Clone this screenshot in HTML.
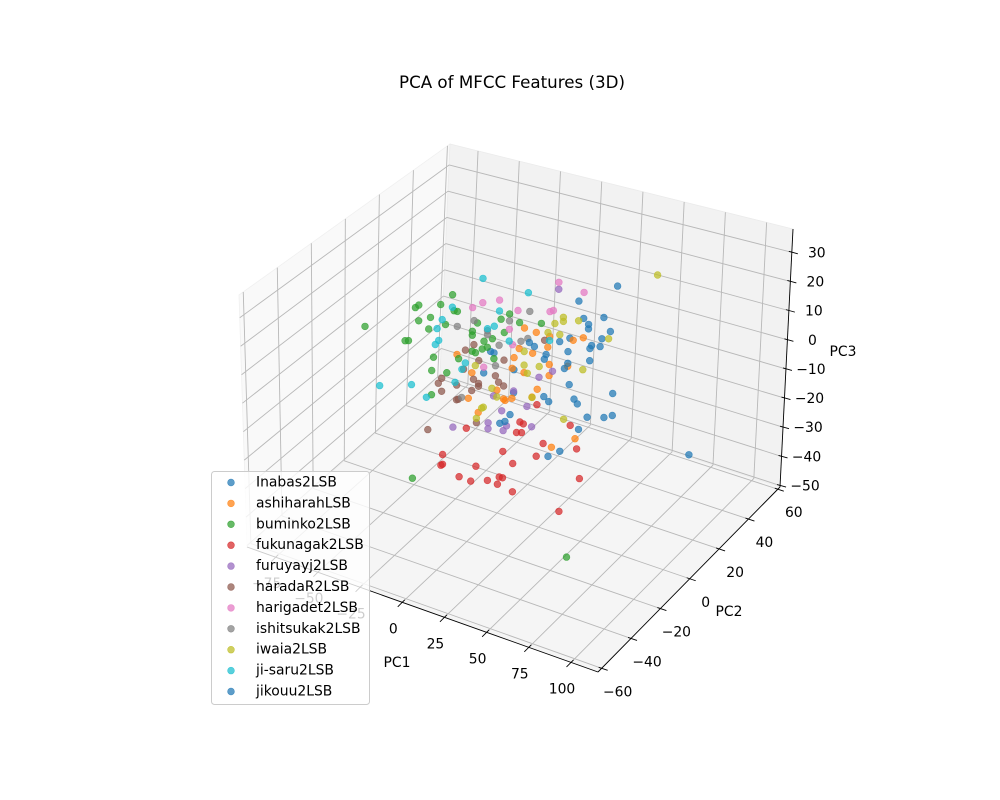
<!DOCTYPE html>
<html><head><meta charset="utf-8"><style>
html,body{margin:0;padding:0;background:#fff;}
svg{display:block;font-family:"DejaVu Sans","Liberation Sans",sans-serif;}
</style></head><body>
<svg id="chart" width="1000" height="800" viewBox="0 0 1000 800" xmlns="http://www.w3.org/2000/svg">
<rect width="1000" height="800" fill="#fff"/>
<text x="512" y="88" text-anchor="middle" font-size="16.7" fill="#000">PCA of MFCC Features (3D)</text>
<g id="panes"></g>
<g id="grid"></g>
<g id="axes"></g>
<g id="points"></g>
<g id="legend"></g>
</svg>
<script>
// ---- data ----
const seriesNames = ["Inabas2LSB","ashiharahLSB","buminko2LSB","fukunagak2LSB","furuyayj2LSB","haradaR2LSB","harigadet2LSB","ishitsukak2LSB","iwaia2LSB","ji-saru2LSB","jikouu2LSB"];
const seriesColors = ["#1f77b4","#ff7f0e","#2ca02c","#d62728","#9467bd","#8c564b","#e377c2","#7f7f7f","#bcbd22","#17becf","#1f77b4"];
const pc1Ticks = [-75,-50,-25,0,25,50,75,100];
const pc2Ticks = [-60,-40,-20,0,20,40,60];
const pc3Ticks = [-50,-40,-30,-20,-10,0,10,20,30];

const inabasPC1 = [-3,-9,9,9,-5,51,47,50,53,53,62,66,61,55,54,60,36,42,41,28];
const inabasPC2 = [0,0,0,0,0,20,0,0,0,0,0,0,0,0,0,0,0,0,0,0];
const inabasPC3 = [4.7,-3.3,0.9,-7.1,4.9,27.4,30.5,25.1,23.5,22,27.2,23.1,19.9,16.7,15.5,17.1,15,17.1,12.4,9.3];

const ashiharaPC1 = [-25,-16,9,15,12,15,-1,-18,3,8,8,22,30,44,50,29,20,30,41,30,23,20,-12,46,32,4];
const ashiharaPC2 = [0,0,0,0,0,0,0,0,0,0,0,0,0,0,0,0,0,0,0,0,0,0,0,0,0,0];
const ashiharaPC3 = [0.4,-4.5,5.1,16.3,8.7,0.9,-7.9,-13.8,-10.3,-9.2,1.2,15.9,15.8,16.7,18.5,12,8.4,6.2,7.4,2.4,-3.5,-6.7,-17.7,-16.4,-21.8,-10.6];

const buminkoPC1 = [-80,-50,-48,-35,-28,-27,-25,-48,-41,-42,-32,-56,-54,-39,-40,-31,-40,-16,-16,-13,6,3,12,-9,-7,-4,-14,-24,-3,-10,-16,1,25,-51,42];
const buminkoPC2 = [0,0,0,0,0,0,0,0,0,0,0,0,0,0,0,0,0,0,0,0,0,0,0,0,0,0,0,0,0,0,0,0,0,0,0];
const buminkoPC3 = [0.8,12.8,14,16.4,21,15.5,15.6,8.4,10.8,6.5,9.8,-0.1,0.3,-3,-7.9,-7.1,-16.5,10.1,8.7,13.5,19.7,12.8,17.7,7.8,6,9.5,2.9,-0.9,2.7,4.9,3.1,17.1,19.5,-48.4,-57.4];

const fukunagaPC1 = [23,-19,13,15,11,14,43,27,47,3,23,-33,-34,-33,-13,9,-23,-16,-6,1,3,0,9,49,37];
const fukunagaPC2 = [0,0,0,0,0,0,0,0,0,0,0,0,0,0,0,0,0,0,0,0,0,0,0,0,0];
const fukunagaPC3 = [-8.8,-24.5,-16.5,-16.8,-20.5,-20,-12.4,-21.4,-19.7,-28.5,-26.5,-36.4,-40.4,-39.9,-36.7,-31.6,-42.3,-42.5,-40.3,-37.8,-37.7,-40.5,-41.4,-29.4,-42.8];

const furuyaPC1 = [-3,9,17,35,24,32,-27,-6,-6,3,5,2,20];
const furuyaPC2 = [0,0,0,0,0,0,0,0,0,0,0,0,0];
const furuyaPC3 = [-10.3,-6.5,-10.4,32.7,0.8,4.2,-25.6,-20.2,-22.3,-21.3,-19.3,-14.6,-16.9];

const haradaPC1 = [-20,-15,-21,-12,3,-34,-36,-12,-12,-15,-2,0,-34,-25,-16,-24,3,27,-42,-13,-25];
const haradaPC2 = [0,0,0,0,0,0,0,0,0,0,0,0,0,0,0,0,0,0,0,0,0];
const haradaPC3 = [2.8,5.6,-4.1,0.5,3.2,-9.6,-11.7,-7.5,-8.5,-6.6,-3.1,-5,-14.2,-10.4,-10.7,-15.2,-5.8,14,-29.3,-21.4,-15.6];

const harigaPC1 = [-16,-10,0,11,6,8,-9,35,50,30,32];
const harigaPC2 = [0,0,0,0,0,0,0,0,0,0,0];
const harigaPC3 = [18.4,21.1,23.6,21.7,14.4,9.4,-1.3,35.1,33.9,24.3,25];

const ishitsukaPC1 = [-25,-15,-7,-7,6,18,13,17,-2,0,-22];
const ishitsukaPC2 = [0,0,0,0,0,0,0,0,0,0,0];
const ishitsukaPC3 = [10.3,14,11.8,10.4,17.3,22.5,11.4,13,0.4,7.9,-14.2];

const iwaiaPC1 = [-14,15,15,-4,-1,-9,56,38,38,33,47,65,29,36,24,50,17,20,-10,-13,39];
const iwaiaPC2 = [0,0,0,0,0,0,40,0,0,0,0,0,0,0,0,0,0,0,0,0,0];
const iwaiaPC3 = [-1.6,8.2,3.5,-7.8,-10.3,-15.3,23,23.6,22.2,20.7,23.8,20.5,17,17.4,4.5,7.7,1,-6.8,-15.8,-19.9,-11];

const jisaruPC1 = [-10,-28,-34,-37,-36,-38,-71,-52,-43,-26,-20,-22,0,-3,6,-7,17,30];
const jisaruPC2 = [0,0,0,0,0,0,0,0,0,0,0,0,0,0,0,0,0,0];
const jisaruPC3 = [29.6,16.6,11.2,7.5,3.5,1.7,-19,-15.1,-18,-9.6,-1.7,-4.3,19.8,14,10.3,12.5,28.8,14.4];

const jikouuPC1 = [27,41,39,54,21,42,27,30,45,47,68,18,7,1,4,53,63,68,48,37,30,114];
const jikouuPC2 = [0,0,0,0,0,0,0,0,0,0,0,0,0,0,0,0,0,0,0,0,0,0];
const jikouuPC3 = [7.5,8.4,6.3,11.4,10.9,1.3,-5.3,-6.5,-3.1,-4.4,2.6,11.8,-15,-19.1,-17.9,-7.9,-6.3,-4.8,-12.9,-22.3,-25.3,-10.2];

const allPC1 = [inabasPC1,ashiharaPC1,buminkoPC1,fukunagaPC1,furuyaPC1,haradaPC1,harigaPC1,ishitsukaPC1,iwaiaPC1,jisaruPC1,jikouuPC1];
const allPC2 = [inabasPC2,ashiharaPC2,buminkoPC2,fukunagaPC2,furuyaPC2,haradaPC2,harigaPC2,ishitsukaPC2,iwaiaPC2,jisaruPC2,jikouuPC2];
const allPC3 = [inabasPC3,ashiharaPC3,buminkoPC3,fukunagaPC3,furuyaPC3,haradaPC3,harigaPC3,ishitsukaPC3,iwaiaPC3,jisaruPC3,jikouuPC3];

// ---- projection (box corners on screen) ----
const X0=-92, X1=116, Y0=-62.5, Y1=61.5, Z0=-50.5, Z1=38;
const C = {
  "000":[247,547], "001":[239,295],
  "100":[598,672], "101":[596,390],
  "110":[780,487], "111":[793,229],
  "010":[440,376], "011":[450,144]
};
function lerp(a,b,t){return [a[0]+(b[0]-a[0])*t, a[1]+(b[1]-a[1])*t];}
function projUVW(u,v,w){
  const a=lerp(C["000"],C["100"],u), b=lerp(C["010"],C["110"],u);
  const c=lerp(C["001"],C["101"],u), d=lerp(C["011"],C["111"],u);
  return lerp(lerp(a,b,v), lerp(c,d,v), w);
}
function xU(x){return (x-X0)/(X1-X0);}
function yV(y){return (y-Y0)/(Y1-Y0);}
function zW(z){return (z-Z0)/(Z1-Z0);}
function proj(x,y,z){return projUVW(xU(x),yV(y),zW(z));}

const NS="http://www.w3.org/2000/svg";
function mk(tag,parent,attrs){const e=document.createElementNS(NS,tag);for(const k in attrs)e.setAttribute(k,attrs[k]);parent.appendChild(e);return e;}
function poly(pts){return pts.map(p=>p[0].toFixed(1)+","+p[1].toFixed(1)).join(" ");}

const panes=document.getElementById("panes");
let p;
p=mk("polygon",panes,{points:poly([C["000"],C["010"],C["011"],C["001"]]),fill:"#f9f9f9",stroke:"#f0f0f0","stroke-width":"0.8"});


p=mk("polygon",panes,{points:poly([C["010"],C["110"],C["111"],C["011"]]),fill:"#f2f2f2",stroke:"#ebebeb","stroke-width":"0.8"});


p=mk("polygon",panes,{points:poly([C["000"],C["100"],C["110"],C["010"]]),fill:"#f5f5f5",stroke:"#eeeeee","stroke-width":"0.8"});



const grid=document.getElementById("grid");
function gline(a,b,name){const l=mk("line",grid,{x1:a[0],y1:a[1],x2:b[0],y2:b[1],stroke:"#b8b8b8","stroke-width":"0.9"});

}
pc1Ticks.forEach(t=>{const u=xU(t);
  gline(projUVW(u,0,0),projUVW(u,1,0),"pc1-grid-floor");
  gline(projUVW(u,1,0),projUVW(u,1,1),"pc1-grid-back");});
pc2Ticks.forEach(t=>{const v=yV(t);
  gline(projUVW(0,v,0),projUVW(1,v,0),"pc2-grid-floor");
  gline(projUVW(0,v,0),projUVW(0,v,1),"pc2-grid-left");});
pc3Ticks.forEach(t=>{const w=zW(t);
  gline(projUVW(0,0,w),projUVW(0,1,w),"pc3-grid-left");
  gline(projUVW(0,1,w),projUVW(1,1,w),"pc3-grid-back");});

const axes=document.getElementById("axes");
function aline(a,b,name){const l=mk("line",axes,{x1:a[0],y1:a[1],x2:b[0],y2:b[1],stroke:"#000","stroke-width":"0.9"});

}
function atext(x,y,s,name,anchor){const t=mk("text",axes,{x:x,y:y,"font-size":"13.9","text-anchor":anchor||"middle","dominant-baseline":"central",fill:"#000"});t.textContent=s;

}
function fmt(t){return t<0?"\u2212"+Math.abs(t):String(t);}
aline(C["000"],C["100"],"pc1-axis-line");
aline(C["100"],C["110"],"pc2-axis-line");
aline(C["110"],C["111"],"pc3-axis-line");
pc1Ticks.forEach(t=>{const q=projUVW(xU(t),0,0);
  aline([q[0]+2.5,q[1]-2.5],[q[0]-4.5,q[1]+4.5],"pc1-tick");
  atext(q[0]-9,q[1]+27,fmt(t),"pc1-tick-label");});
pc2Ticks.forEach(t=>{const q=projUVW(1,yV(t),0);
  aline([q[0]-3,q[1]-1],[q[0]+6,q[1]+2],"pc2-tick");
  atext(q[0]+16,q[1]+24,fmt(t),"pc2-tick-label");});
pc3Ticks.forEach(t=>{const q=projUVW(1,1,zW(t));
  aline([q[0]-3,q[1]-1],[q[0]+6,q[1]+1.5],"pc3-tick");
  atext(q[0]+25,q[1]+1,fmt(t),"pc3-tick-label");});
atext(397,663,"PC1","pc1-axis-title");
atext(729,612,"PC2","pc2-axis-title");
atext(843,352,"PC3","pc3-axis-title");

const pts=document.getElementById("points");
for(let s=0;s<seriesNames.length;s++){
  const g=mk("g",pts,{});
  
  
  for(let i=0;i<allPC1[s].length;i++){
    const q=proj(allPC1[s][i],allPC2[s][i],allPC3[s][i]);
    const c=mk("circle",g,{cx:q[0].toFixed(1),cy:q[1].toFixed(1),r:"3.4",fill:seriesColors[s],"fill-opacity":"0.72",stroke:seriesColors[s],"stroke-opacity":"0.72","stroke-width":"0.6"});
    
    
  }
}

const lg=document.getElementById("legend");
const box=mk("rect",lg,{x:211.5,y:471.5,width:158,height:233,rx:3,fill:"#fff","fill-opacity":"0.8",stroke:"#cccccc","stroke-width":"1"});


seriesNames.forEach((n,i)=>{
  const y=482.5+i*20.9;
  const e=mk("g",lg,{});
  
  
  const m=mk("circle",e,{cx:231,cy:y,r:3.4,fill:seriesColors[i],"fill-opacity":"0.72",stroke:seriesColors[i],"stroke-opacity":"0.72","stroke-width":"0.6"});
  
  
  const t=mk("text",e,{x:256,y:y,"font-size":"13.9","dominant-baseline":"central",fill:"#000"});
  t.textContent=n;
  
  
});
</script>
</body></html>
